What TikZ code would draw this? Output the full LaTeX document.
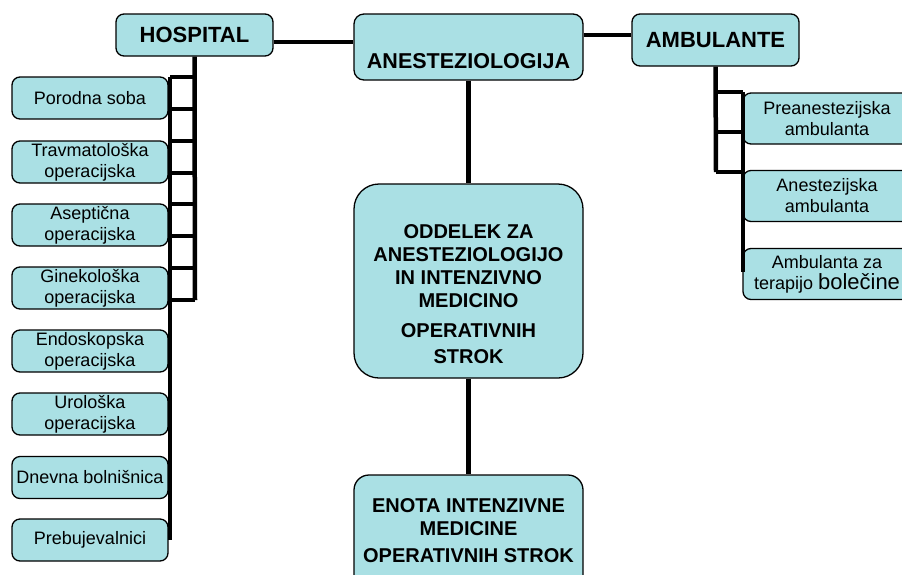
\documentclass[tikz,border=0pt]{standalone}
\usepackage{fontspec}
\setmainfont{Liberation Sans}
\definecolor{boxfill}{RGB}{170,224,228}
\tikzset{
  unit/.style={draw=black, fill=boxfill, line width=1.3pt, rounded corners=8pt,
    inner sep=0pt, align=center, font=\fontsize{18}{21}\selectfont},
  head/.style={unit, font=\bfseries\fontsize{22}{26}\selectfont},
  caption/.style={inner sep=0pt, align=center, font=\bfseries\fontsize{20}{23}\selectfont},
  link/.style={line width=4.5pt},
  thinlink/.style={line width=3.5pt}
}
\begin{document}
\begin{tikzpicture}[x=1pt,y=-1pt]
  \useasboundingbox (0,0) rectangle (902,574);
  \clip (0,0) rectangle (902,574);
  % top row
  \node[head, minimum width=157, minimum height=42] (hospital) at (194.5,35) {HOSPITAL};
  \node[unit, rounded corners=10pt, minimum width=229, minimum height=66] (anest) at (468.5,47) {};
  \node[caption, font=\bfseries\fontsize{21.5}{26}\selectfont, anchor=base] (anestT) at (468.5,68) {ANESTEZIOLOGIJA};
  \node[head, minimum width=167, minimum height=52] (ambul) at (715.5,40) {AMBULANTE};
  % middle column
  \node[unit, rounded corners=25pt, minimum width=229, minimum height=194] (oddelek) at (468.5,281) {};
  \node[caption, anchor=north] (oddelekT) at (468.5,224)
    {ODDELEK ZA\\ANESTEZIOLOGIJO\\IN INTENZIVNO\\MEDICINO\\[7pt]OPERATIVNIH\\[3pt]STROK};
  \node[unit, rounded corners=15pt, minimum width=229, minimum height=115] (enota) at (468.5,532.5) {};
  \node[caption, anchor=north] (enotaT) at (468.5,498)
    {ENOTA INTENZIVNE\\MEDICINE\\[4pt]OPERATIVNIH STROK};
  % hospital units
  \foreach \name/\y/\txt in {porodna/98/Porodna soba,
      travma/162/{Travmatološka\\operacijska},
      asept/225/{Aseptična\\operacijska},
      gineko/288/{Ginekološka\\operacijska},
      endo/351/{Endoskopska\\operacijska},
      uro/414/{Urološka\\operacijska},
      dnevna/477.5/Dnevna bolnišnica,
      prebuj/540/Prebujevalnici}
    \node[unit, minimum width=156, minimum height=42] (\name) at (90,\y) {\txt};
  % ambulante units
  \foreach \name/\y/\txt in {preanest/118.5/{Preanestezijska\\ambulanta},
      anamb/196/{Anestezijska\\ambulanta},
      bolec/274/{Ambulanta za\\terapijo {\fontsize{22}{24}\selectfont bolečine}}}
    \node[unit, minimum width=168, minimum height=51] (\name) at (827,\y) {\txt};
  % connectors
  \coordinate (hladder) at (195,300);
  \coordinate (aladder) at (716,172);
  \draw[link] ([yshift=-7pt]hospital.east) -- ([yshift=5pt]anest.west);
  \draw[link] ([yshift=12pt]anest.east) -- ([yshift=5pt]ambul.west);
  \draw[link] (anest.south) -- (oddelek.north);
  \draw[link] (oddelek.south) -- (enota.north);
  \draw[link] (hospital.south) -- (hladder);
  \foreach \y in {77,109,141,173,204,236,268,300}
    \draw[link] (170,\y) -- (hladder |- 0,\y);
  \draw[thinlink] (170,77) -- (170,540);
  \draw[link] (ambul.south) -- (aladder);
  \foreach \y in {92,132,172}
    \draw[link] (aladder |- 0,\y) -- (743,\y);
  \draw[thinlink] (743,92) -- (743,272);
\end{tikzpicture}
\end{document}
